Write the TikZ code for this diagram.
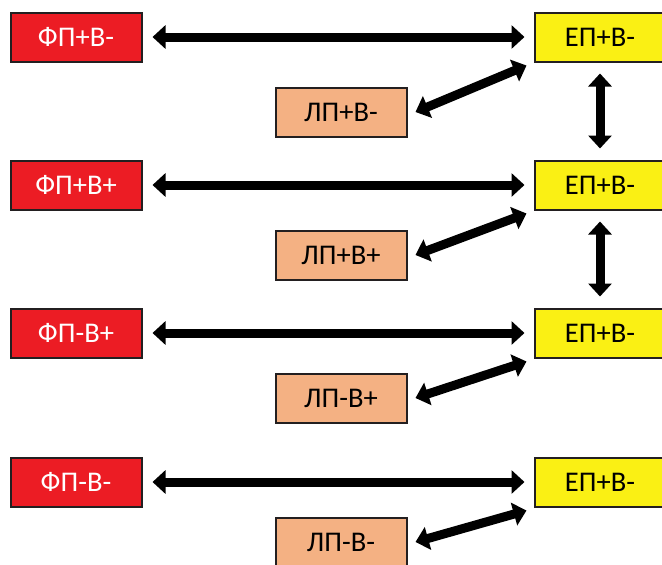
\documentclass[tikz,border=0pt]{standalone}
\usepackage{fontspec}
\setmainfont{Carlito}
\usetikzlibrary{arrows.meta}
\definecolor{redbox}{RGB}{236,28,36}
\definecolor{yelbox}{RGB}{250,240,20}
\definecolor{orbox}{RGB}{244,177,131}
\definecolor{edge}{RGB}{35,31,32}
\tikzset{
  box/.style={draw=edge, line width=2pt, minimum width=131pt, minimum height=49pt, inner sep=0pt, font=\fontsize{28.5}{32}\selectfont},
  redb/.style={box, fill=redbox, text=white},
  yelb/.style={box, fill=yelbox, text=black},
  orb/.style={box, fill=orbox, text=black},
  arr/.style={line width=9pt, {Triangle[width=23pt,length=13pt]}-{Triangle[width=23pt,length=13pt]}},
}
\begin{document}
\begin{tikzpicture}[x=1pt,y=-1pt]
\clip (0,0) rectangle (662,565);
\fill[white] (0,0) rectangle (662,565);
% row 1
\node[redb] (r1) at (76,37) {ФП+В-};
\node[yelb] (y1) at (600,37) {ЕП+В-};
\node[orb]  (o1) at (341,112) {ЛП+В-};
% row 2
\node[redb] (r2) at (76,185) {ФП+В+};
\node[yelb] (y2) at (600,185) {ЕП+В-};
\node[orb]  (o2) at (341,255) {ЛП+В+};
% row 3
\node[redb] (r3) at (76,333) {ФП-В+};
\node[yelb] (y3) at (600,333) {ЕП+В-};
\node[orb]  (o3) at (341,398) {ЛП-В+};
% row 4
\node[redb] (r4) at (76,482) {ФП-В-};
\node[yelb] (y4) at (600,482) {ЕП+В-};
\node[orb]  (o4) at (341,542) {ЛП-В-};
% horizontal and diagonal arrows
\foreach \i in {1,2,3,4}{
  \draw[arr, shorten <=10pt, shorten >=9pt] (r\i.east) -- (y\i.west);
  \draw[arr] ([xshift=8pt]o\i.east) -- ([shift={(-7pt,-3pt)}]y\i.south west);
}
% vertical arrows
\draw[arr, shorten <=11pt, shorten >=11pt] (y1.south) -- (y2.north);
\draw[arr, shorten <=11pt, shorten >=11pt] (y2.south) -- (y3.north);
\end{tikzpicture}
\end{document}
